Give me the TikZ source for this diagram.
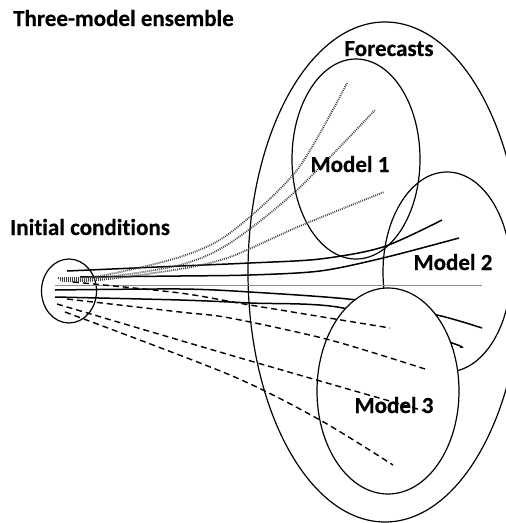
\documentclass[tikz,border=0pt]{standalone}
\usepackage{fontspec}
\setmainfont{Carlito}[Ligatures=NoCommon, BoldFeatures={FakeBold=0.4}]
\usetikzlibrary{shapes.geometric}

\begin{document}
\begin{tikzpicture}[x=1pt, y=-1pt,
    txt/.style={font=\fontsize{23}{27}\selectfont\bfseries, inner sep=0pt},
    zone/.style={ellipse, draw, line width=1.2pt, inner sep=0pt},
    plain/.style={line width=1.5pt},
    dots/.style={line width=1.8pt, black!75, dash pattern=on 0.9pt off 1.1pt},
    dashes/.style={line width=1.4pt, dash pattern=on 6pt off 4pt}]
    \clip (0,0) rectangle (506,523);

    \node[zone, minimum width=274pt, minimum height=500pt] (forecasts) at (385,272) {};
    \node[zone, minimum width=128pt, minimum height=200pt] (model1) at (356,159) {};
    \node[zone, minimum width=128pt, minimum height=200pt] (model2) at (447,272) {};
    \node[zone, minimum width=55pt, minimum height=64pt] (init) at (69,291) {};

    % model 2 runs
    \draw[plain] plot[smooth] coordinates {(67,271) (180,266) (250,263) (320,259) (383,247) (442,220)};
    \draw[plain] plot[smooth] coordinates {(80,277) (180,276) (250,275) (320,271) (383,258) (459,238)};
    \draw[plain] plot[smooth] coordinates {(55,290) (180,289) (250,292) (357,300) (437,315) (482,328)};
    \draw[plain] plot[smooth] coordinates {(55,297) (180,300) (250,303) (343,308) (452,343) (460,347)};
    \draw[line width=0.9pt, black!45] (55,285) -- (482,285);

    % model 3 sits on top of the runs above
    \node[zone, fill=white, minimum width=142pt, minimum height=206pt] (model3) at (388,391) {};

    % model 3 runs
    \draw[dashes] plot[smooth] coordinates {(73,282) (180,293) (250,305) (390,328)};
    \draw[dashes] plot[smooth] coordinates {(67,299) (180,312) (230,318) (330,340) (425,369)};
    \draw[dashes] plot[smooth] coordinates {(57,304) (230,355) (428,412)};
    \draw[dashes] plot[smooth] coordinates {(65,312) (230,375) (320,420) (393,465)};

    % model 1 runs
    \draw[dots] plot[smooth] coordinates {(58,278) (100,276) (180,257) (230,233) (297,170) (347,83)};
    \draw[dots] plot[smooth] coordinates {(60,280) (100,278) (180,265) (230,243) (297,190) (375,110)};
    \draw[dots] plot[smooth] coordinates {(62,281) (100,280) (180,269) (230,257) (300,226) (384,192)};

    \node[txt, anchor=base west] (title) at (13,26) {Three-model ensemble};
    \node[txt, anchor=base west] (initlabel) at (10,235) {Initial conditions};
    \node[txt, anchor=base] (fclabel) at (389,56) {Forecasts};
    \node[txt, anchor=base] (m1label) at (350,172) {Model 1};
    \node[txt, anchor=base] (m2label) at (453,270) {Model 2};
    \node[txt, anchor=base] (m3label) at (394,413) {Model 3};
\end{tikzpicture}
\end{document}
